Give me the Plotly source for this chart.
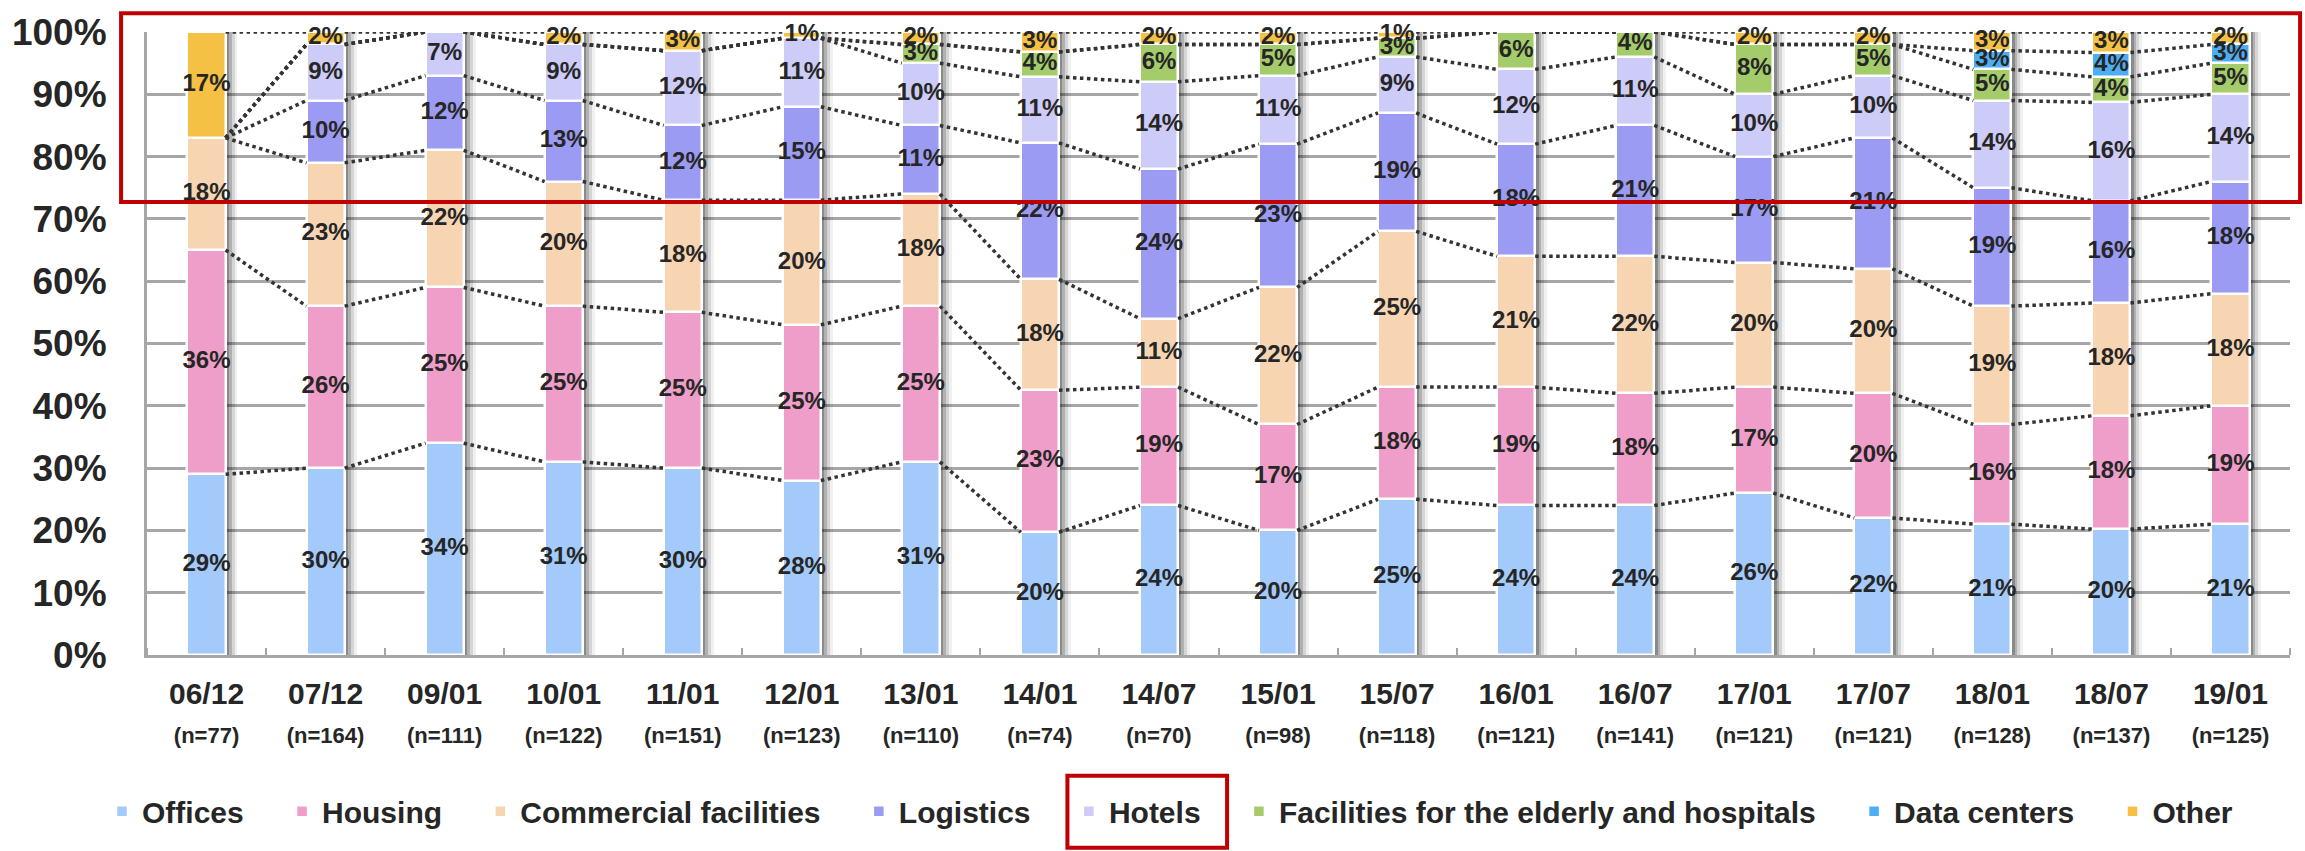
import plotly.graph_objects as go

# Survey periods and number of respondents
periods = ["06/12", "07/12", "09/01", "10/01", "11/01", "12/01", "13/01", "14/01", "14/07",
           "15/01", "15/07", "16/01", "16/07", "17/01", "17/07", "18/01", "18/07", "19/01"]
sample_sizes = [77, 164, 111, 122, 151, 123, 110, 74, 70, 98, 118, 121, 141, 121, 121, 128, 137, 125]

# Share of each property type (%)
offices      = [29, 30, 34, 31, 30, 28, 31, 19.7, 24, 20, 25, 24, 24, 26, 22, 21, 20.2, 21]
housing      = [36, 26, 25, 25, 25, 25, 25, 22.8, 19, 17, 18, 19, 18, 17, 20, 16, 18.2, 19]
commercial   = [18, 23, 22, 20, 18, 20, 18, 17.8, 11, 22, 25, 21, 22, 20, 20, 19, 18.1, 18]
logistics    = [0, 10, 12, 13, 12, 15, 11, 21.9, 24, 23, 19, 18, 21, 17, 21, 19, 16.4, 18]
hotels       = [0, 9, 7, 9, 12, 11, 10, 10.6, 14, 11, 9, 12, 11, 10, 10, 14, 15.8, 14]
elderly      = [0, 0, 0, 0, 0, 0, 3, 4.0, 6, 5, 3, 6, 4, 8, 5, 5, 4.1, 5]
data_centers = [0, 0, 0, 0, 0, 0, 0, 0, 0, 0, 0, 0, 0, 0, 0, 3, 3.9, 3]
other        = [17, 2, 0, 2, 3, 1, 2, 3.2, 2, 2, 1, 0, 0, 2, 2, 3, 3.3, 2]

series_names = ["Offices", "Housing", "Commercial facilities", "Logistics", "Hotels",
                "Facilities for the elderly and hospitals", "Data centers", "Other"]
series_values = [offices, housing, commercial, logistics, hotels, elderly, data_centers, other]
series_colors = ["#A3CAFA", "#EF9EC9", "#F7D5B2", "#9B9BF3", "#CDCBF7", "#A5CC6B", "#4DAEF4", "#F4C144"]

FONT = "Liberation Sans, Arial, sans-serif"
TEXT = "#262626"
GRID = "#A6A6A6"
BAR_W = 0.32
LEGEND_PAD = "\u00a0" * 4

n = len(periods)
xs = list(range(n))
totals = [sum(col) for col in zip(*series_values)]

fig = go.Figure()

# soft drop shadow on the right of every column
for shift, alpha in [(0.10, 0.06), (0.075, 0.11), (0.05, 0.17), (0.028, 0.22)]:
    fig.add_bar(x=xs, y=totals, base=[0] * n, width=BAR_W, offset=-BAR_W / 2 + shift,
                marker=dict(color=f"rgba(0,0,0,{alpha})", line=dict(width=0)),
                showlegend=False, hoverinfo="skip")

# stacked segments
bottoms = [0.0] * n
tops = []
label_x, label_y, label_t = [], [], []
for name, vals, color in zip(series_names, series_values, series_colors):
    fig.add_bar(x=xs, y=vals, base=list(bottoms), width=BAR_W, offset=-BAR_W / 2,
                name=name + LEGEND_PAD,
                marker=dict(color=color, line=dict(color="white", width=2.5)))
    for i, v in enumerate(vals):
        if v > 0:
            label_x.append(i)
            label_y.append(bottoms[i] + v / 2)
            label_t.append(f"{round(v)}%")
    bottoms = [b + v for b, v in zip(bottoms, vals)]
    tops.append(list(bottoms))

# dotted series lines joining segment tops of neighbouring columns
cx, cy = [], []
for top in tops:
    for i in range(n - 1):
        cx += [i + BAR_W / 2, i + 1 - BAR_W / 2, None]
        cy += [top[i], top[i + 1], None]
fig.add_scatter(x=cx, y=cy, mode="lines", line=dict(color="#333333", width=3.5, dash="dot"),
                showlegend=False, hoverinfo="skip", cliponaxis=False)

# percentage labels in the middle of each segment
fig.add_scatter(x=label_x, y=label_y, text=label_t, mode="text",
                textfont=dict(family=FONT, size=24, color=TEXT, weight="bold"),
                showlegend=False, hoverinfo="skip", cliponaxis=False)

tick_text = [f"{p}<br><span style='font-size:22px'>(n={s})</span>" for p, s in zip(periods, sample_sizes)]

# highlight frames
red = dict(color="#C00000", width=4)
fig.add_shape(type="rect", xref="paper", yref="paper", x0=-0.0121, x1=1.0047, y0=0.727, y1=1.030,
              line=red, layer="above")
fig.add_shape(type="rect", xref="paper", yref="paper", x0=0.4295, x1=0.504, y0=-0.3095, y1=-0.1937,
              line=red, layer="above")

fig.update_layout(
    width=2305, height=851,
    margin=dict(l=141, r=15, t=25, b=196),
    paper_bgcolor="white", plot_bgcolor="white",
    barmode="overlay", bargap=0,
    font=dict(family=FONT, color=TEXT),
    showlegend=True,
    legend=dict(orientation="h", xref="paper", yref="paper",
                x=-0.021, y=-0.2508, xanchor="left", yanchor="middle",
                font=dict(family=FONT, size=30, color=TEXT, weight="bold"),
                traceorder="normal", bgcolor="rgba(0,0,0,0)"),
    xaxis=dict(range=[-0.5, n - 0.5], tickvals=xs, ticktext=tick_text, ticks="",
               showline=True, linecolor=GRID, linewidth=3, showgrid=False, zeroline=False,
               tickfont=dict(family=FONT, size=30, color=TEXT, weight="bold"),
               ticklabelstandoff=10,
               minor=dict(ticks="inside", tick0=-0.5, dtick=1, ticklen=7, tickwidth=2,
                          tickcolor=GRID, showgrid=False)),
    yaxis=dict(range=[0, 100], dtick=10, ticksuffix="%", showgrid=True, gridcolor=GRID,
               gridwidth=3, showline=True, linecolor=GRID, linewidth=3, zeroline=False,
               tickfont=dict(family=FONT, size=37, color=TEXT, weight="bold"),
               ticklabelstandoff=30),
)

fig.write_html("out.html")
